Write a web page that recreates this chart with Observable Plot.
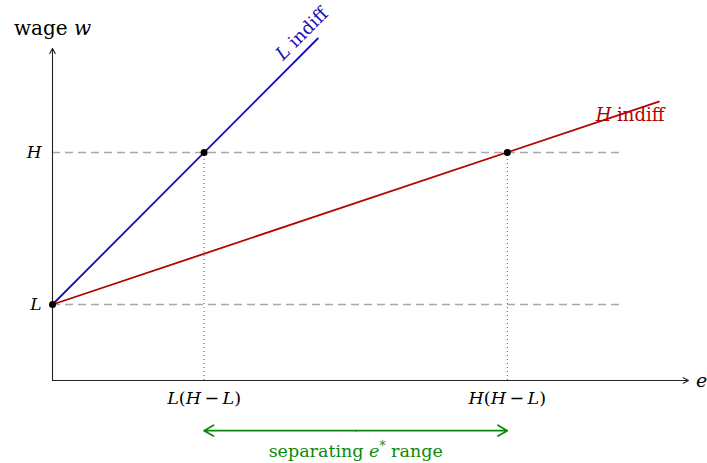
<!DOCTYPE html>
<html><head><meta charset="utf-8">
<script src="https://cdn.jsdelivr.net/npm/d3@7"></script>
<script src="https://cdn.jsdelivr.net/npm/@observablehq/plot@0.6"></script>
<style>body{margin:0;background:#fff} svg{display:block} svg text{font-family:"DejaVu Serif",serif}</style>
</head><body><div id="chart"></div>
<script>
// ---- data ----
const levels = [{name: "$L$", w: 1}, {name: "$H$", w: 3}];
const thresholds = [{label: "$L$($H$\u2009−\u2009$L$)", e: 2}, {label: "$H$($H$\u2009−\u2009$L$)", e: 6}];
const indiffL = [{e: 0, w: 1}, {e: 3.5, w: 4.5}];
const indiffH = [{e: 0, w: 1}, {e: 8, w: 3.67}];
const points = [{e: 0, w: 1}, {e: 2, w: 3}, {e: 6, w: 3}];
const dashEnd = 7.5;
const axisEnds = {e: 8.39, w: 4.37};
const rangeArrow = {from: 2, to: 6, mid: 4, w: -0.66};

const BLUE = "#1010c0", RED = "#b30000", GREEN = "#0a8a0a";
const FONT = "DejaVu Serif, serif";
const SX = 75.8;

const chart = Plot.plot({
  width: 707, height: 463,
  margin: 0,
  style: {fontFamily: FONT, background: "#fff"},
  x: {domain: [-52/SX, 655/SX], range: [0, 707], axis: null},
  y: {domain: [-83/76, 5], range: [463, 0], axis: null},
  marks: [
    // dashed levels
    Plot.ruleY(levels, {y: "w", x1: 0, x2: dashEnd, stroke: "#a8a8a8", strokeWidth: 1.3, strokeDasharray: "8,5"}),
    // dotted verticals
    Plot.ruleX(thresholds, {x: "e", y1: 0, y2: 3, stroke: "#555", strokeWidth: 1, strokeDasharray: "1,3"}),
    // axes
    Plot.arrow([{x1: 0, y1: 0, x2: axisEnds.e, y2: 0}, {x1: 0, y1: 0, x2: 0, y2: axisEnds.w}],
      {x1: "x1", y1: "y1", x2: "x2", y2: "y2", stroke: "#222", strokeWidth: 1.1, headLength: 8, headAngle: 55}),
    // indifference lines
    Plot.line(indiffL, {x: "e", y: "w", stroke: BLUE, strokeWidth: 1.8}),
    Plot.line(indiffH, {x: "e", y: "w", stroke: RED, strokeWidth: 1.8}),
    Plot.dot(points, {x: "e", y: "w", r: 3.5, fill: "#000"}),
    // range arrow (double-headed)
    Plot.arrow([{x1: rangeArrow.mid, x2: rangeArrow.from}, {x1: rangeArrow.mid, x2: rangeArrow.to}],
      {x1: "x1", x2: "x2", y1: rangeArrow.w, y2: rangeArrow.w, stroke: GREEN, strokeWidth: 1.8, headLength: 9, headAngle: 60}),
    // labels
    Plot.text(levels, {x: 0, y: "w", text: "name", textAnchor: "end", dx: -11, fontSize: 17, fill: "#000"}),
    Plot.text(thresholds, {x: "e", y: -0.24, text: "label", fontSize: 17.5, fill: "#000"}),
    Plot.text(["wage $w$"], {x: 0, y: 4.63, text: d => d, fontSize: 20, fill: "#000"}),
    Plot.text(["$e$"], {x: 8.49, y: 0, text: d => d, textAnchor: "start", fontSize: 19, fill: "#000"}),
    Plot.text(["$L$ indiff"], {x: 3.29, y: 4.56, text: d => d, rotate: -45, fontSize: 18, fill: BLUE}),
    Plot.text(["$H$ indiff"], {x: 7.62, y: 3.49, text: d => d, fontSize: 18, fill: RED}),
    Plot.text(["separating $e$^*^ range"], {x: rangeArrow.mid, y: -0.934, text: d => d, fontSize: 17.5, fill: GREEN})
  ]
});

// rich text: $..$ italic, ^..^ superscript
function richify(svg) {
  svg.querySelectorAll("text").forEach(t => {
    const s = t.textContent;
    if (!/[$^]/.test(s)) return;
    while (t.firstChild) t.removeChild(t.firstChild);
    s.split(/(\$[^$]*\$|\^[^^]*\^)/).filter(p => p.length).forEach(p => {
      const ts = document.createElementNS("http://www.w3.org/2000/svg", "tspan");
      if (p[0] === "$") { ts.setAttribute("font-style", "italic"); ts.textContent = p.slice(1, -1); }
      else if (p[0] === "^") { ts.setAttribute("baseline-shift", "super"); ts.setAttribute("font-size", "70%"); ts.textContent = p.slice(1, -1); }
      else ts.textContent = p;
      t.appendChild(ts);
    });
  });
}
richify(chart);
document.getElementById("chart").appendChild(chart);
</script>
</body></html>
